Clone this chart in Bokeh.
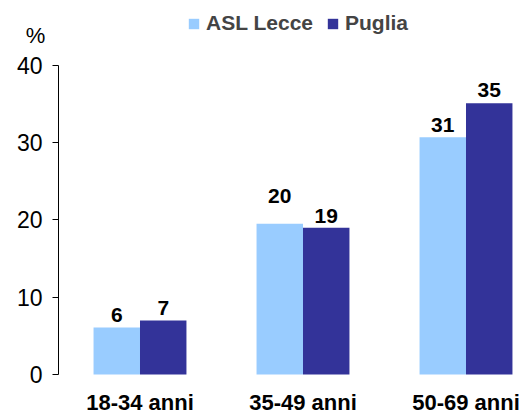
from bokeh.plotting import figure
from bokeh.models import ColumnDataSource, Range1d, FixedTicker, Legend, LegendItem, LabelSet, Label
from bokeh.core.properties import value
from bokeh.embed import file_html
from bokeh.resources import INLINE

categories = ["18-34 anni", "35-49 anni", "50-69 anni"]
series_names = ["ASL Lecce", "Puglia"]
asl_lecce = [6.1, 19.5, 30.7]
puglia = [7.0, 19.0, 35.1]
asl_labels = ["6", "20", "31"]
puglia_labels = ["7", "19", "35"]
y_ticks = [0, 10, 20, 30, 40]

# label placement (px above the bar top), as in the original
asl_label_gap = [5, 21, 5]
puglia_label_gap = [5, 5, 6]

FONT = "Liberation Sans"
LIGHT = "#99CCFF"
DARK = "#333399"

pos = [i + 0.5 for i in range(len(categories))]
bw = 0.285
src_a = ColumnDataSource(dict(x=[p - bw / 2 for p in pos], y=asl_lecce, lab=asl_labels, dy=asl_label_gap))
src_p = ColumnDataSource(dict(x=[p + bw / 2 for p in pos], y=puglia, lab=puglia_labels, dy=puglia_label_gap))

p = figure(width=527, height=416, output_backend="svg", toolbar_location=None,
           x_range=Range1d(-0.3558, 2.8773), y_range=Range1d(-5.437, 48.414),
           min_border_left=0, min_border_right=0, min_border_top=0, min_border_bottom=0)
p.title.visible = False
p.outline_line_color = None
p.grid.visible = False
p.background_fill_color = "white"
p.border_fill_color = "white"

r1 = p.vbar(x="x", top="y", width=bw, source=src_a, color=LIGHT, line_color=None)
r2 = p.vbar(x="x", top="y", width=bw, source=src_p, color=DARK, line_color=None)

for src in (src_a, src_p):
    p.add_layout(LabelSet(x="x", y="y", text="lab", source=src, text_align="center",
                          text_baseline="bottom", y_offset="dy", text_font=value(FONT),
                          text_font_style="bold", text_font_size="21px", text_color="black"))

# y axis
ya = p.yaxis[0]
ya.fixed_location = 0
ya.bounds = (0, 40)
ya.ticker = FixedTicker(ticks=y_ticks)
ya.minor_tick_line_color = None
ya.major_tick_in = 0
ya.major_tick_out = 6
ya.axis_line_color = "black"
ya.major_tick_line_color = "black"
ya.major_label_text_font = FONT
ya.major_label_text_font_size = "23px"
ya.major_label_text_color = "black"
ya.major_label_standoff = 10

# x axis
xa = p.xaxis[0]
xa.fixed_location = 0
xa.ticker = FixedTicker(ticks=pos)
xa.major_label_overrides = {pos[i]: categories[i] for i in range(len(categories))}
xa.axis_line_color = None
xa.major_tick_line_color = None
xa.minor_tick_line_color = None
xa.major_tick_out = 0
xa.major_tick_in = 0
xa.major_label_text_font = FONT
xa.major_label_text_font_style = "bold"
xa.major_label_text_font_size = "22px"
xa.major_label_text_color = "black"
xa.major_label_standoff = 16

p.add_layout(Label(x=-0.141, y=43.9, text="%", text_align="center", text_baseline="middle",
                   text_font=FONT, text_font_size="22px", text_color="black"))

legend = Legend(items=[LegendItem(label=series_names[0], renderers=[r1]),
                       LegendItem(label=series_names[1], renderers=[r2])],
                location=(187, 381), orientation="horizontal",
                label_text_font=FONT, label_text_font_style="bold", label_text_font_size="21px",
                glyph_width=13, glyph_height=13, label_height=20, label_standoff=6, spacing=13,
                padding=0, margin=0, border_line_color=None, background_fill_alpha=0)
p.add_layout(legend, "center")

open("out.html", "w").write(file_html(p, INLINE))
